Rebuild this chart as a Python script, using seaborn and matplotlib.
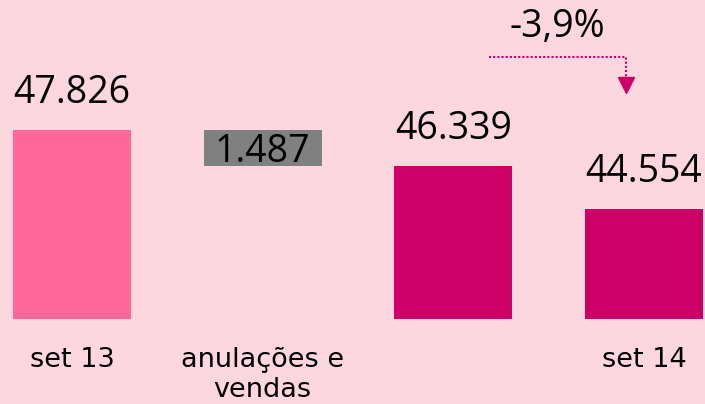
import numpy as np
import pandas as pd
import matplotlib
matplotlib.use("Agg")
import matplotlib.pyplot as plt
import seaborn as sns

# ---- data ----
categories = ["set 13", "anulações e\nvendas", "", "set 14"]
keys = ["a", "b", "c", "d"]
totals = [47826, np.nan, 46339, 44554]
float_bottom = 46339
float_top = 47826
float_value = 1487
value_labels = ["47.826", "1.487", "46.339", "44.554"]
change_label = "-3,9%"

bg = "#FDD7DF"
bar_colors = ["#FF6699", "#808080", "#CC0066", "#CC0066"]

sns.set_theme(style="white")
plt.rcParams["font.family"] = ["DejaVu Sans"]

fig = plt.figure(figsize=(7.05, 4.04), dpi=100, facecolor=bg)
ax = fig.add_axes([0, 85 / 404, 1, 319 / 404])
ax.set_facecolor(bg)

df = pd.DataFrame({"key": keys, "value": totals})
sns.barplot(data=df, x="key", y="value", hue="key", palette=bar_colors,
            order=keys, width=0.62, legend=False, ax=ax,
            edgecolor="none", saturation=1)
# floating bar
ax.bar(1, float_top - float_bottom, bottom=float_bottom, width=0.62,
       color=bar_colors[1], edgecolor="none")

ax.set_ylim(40000, 53209)
ax.set_xlim(-0.3776, 3.320)
for s in ax.spines.values():
    s.set_visible(False)
ax.set_yticks([])
ax.set_xticks(range(4))
ax.set_xticklabels(categories, fontsize=19.5, color="#000000",
                   linespacing=1.2)
ax.tick_params(axis="x", length=0, pad=20)
ax.set_xlabel("")
ax.set_ylabel("")

numfont = dict(family="Open Sans", fontsize=27, color="#000000")
for i, v in enumerate(totals):
    if np.isnan(v):
        continue
    ax.annotate(value_labels[i], (i, v), xytext=(0, 19.5), textcoords="offset points",
                ha="center", va="baseline", **numfont)
ax.annotate(value_labels[1], (1, float_bottom), xytext=(0, 3),
            textcoords="offset points", ha="center", va="baseline", **numfont)

# change annotation
ax.plot([0.6936, 0.888, 0.888], [0.8213, 0.8213, 0.7555], transform=ax.transAxes,
        color="#CC0066", lw=1.5, dashes=(1, 1), clip_on=False)
ax.plot([0.888], [0.732], transform=ax.transAxes, marker="v", color="#CC0066",
        markersize=12, clip_on=False)
ax.text(0.791, 0.884, change_label, transform=ax.transAxes, ha="center",
        va="baseline", **numfont)

fig.savefig("out.png", dpi=100, facecolor=bg)
